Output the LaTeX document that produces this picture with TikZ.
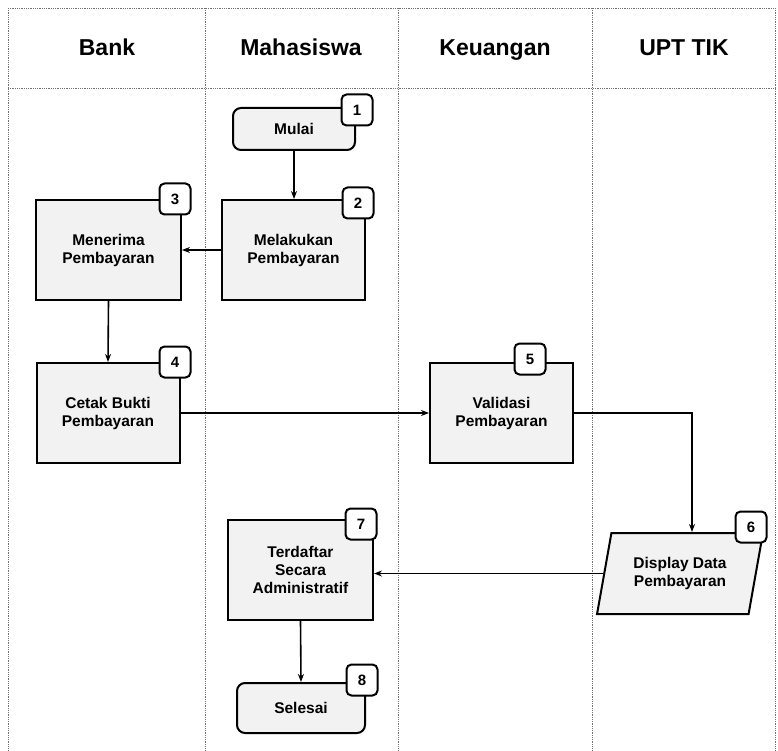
\documentclass[tikz,border=0pt]{standalone}
\usepackage{fontspec}
\setmainfont{Liberation Sans}
\usetikzlibrary{arrows.meta, positioning, shapes.geometric}

\begin{document}
\begin{tikzpicture}[
    x=1pt, y=-1pt,
    lane/.style={draw=black!55, densely dotted, line width=0.8pt},
    lanehead/.style={font=\fontsize{23}{26}\selectfont\bfseries, text=black,
        text height=16pt, text depth=5pt},
    box/.style={
        draw=black, minimum width=143pt, minimum height=100pt,
        font=\fontsize{15.5}{18}\selectfont\bfseries, align=center, line width=2pt, fill=black!5
    },
    term/.style={box, rounded corners=8pt},
    io/.style={box, trapezium, trapezium left angle=76, trapezium right angle=104,
        trapezium stretches=true, inner xsep=0pt},
    badge/.style={
        draw=black, rounded corners=5pt, minimum width=31pt, minimum height=31pt,
        font=\fontsize{15}{17}\selectfont\bfseries, line width=2pt, fill=white
    },
    arrow/.style={
        -{Stealth[length=8pt, width=6pt]}, line width=1.6pt, black
    }
]
\useasboundingbox (0,0) rectangle (778,751);

% swimlanes
\draw[lane] (8,8) -- (775,8);
\draw[lane] (8,88) -- (775,88);
\foreach \xx in {8,205,398,592,775}
    \draw[lane] (\xx,8) -- (\xx,751);

\node[lanehead] (hbank) at (107,50) {Bank};
\node[lanehead] (hmhs) at (301,50) {Mahasiswa};
\node[lanehead] (hkeu) at (495,50) {Keuangan};
\node[lanehead] (htik) at (684,50) {UPT TIK};

% steps
\node[term, minimum width=122pt, minimum height=42pt] (mulai) at (294,129) {Mulai};
\node[box] (bayar) at (293.5,250) {Melakukan\\Pembayaran};
\node[box, minimum width=145pt] (terima) at (108.5,250) {Menerima\\Pembayaran};
\node[box] (cetak) at (108,413) {Cetak Bukti\\Pembayaran};
\node[box] (validasi) at (501.5,413) {Validasi\\Pembayaran};
\node[io, minimum width=166pt, minimum height=81pt] (display) at (680,573.5) {Display Data\\Pembayaran};
\node[box, minimum width=145pt] (terdaftar) at (300.5,570) {Terdaftar\\Secara\\Administratif};
\node[term, minimum width=128pt, minimum height=50pt] (selesai) at (301,708) {Selesai};

% step numbers
\node[badge] (n1) at (357,110) {1};
\node[badge] (n2) at (358,203) {2};
\node[badge] (n3) at (175,199) {3};
\node[badge] (n4) at (175,362) {4};
\node[badge] (n5) at (530,359) {5};
\node[badge] (n6) at (751,527) {6};
\node[badge] (n7) at (361,524) {7};
\node[badge] (n8) at (362,680) {8};

% flow
\draw[arrow] (mulai.south) -- (bayar.north -| mulai.south);
\draw[arrow] (bayar.west) -- (terima.east);
\draw[arrow] (terima.south) -- (cetak.north);
\draw[arrow] (cetak.east) -- (validasi.west);
\draw[arrow] (validasi.east) -| ([xshift=12pt]display.north);
\draw[arrow] (display.west) -- (display.west -| terdaftar.east);
\draw[arrow] (terdaftar.south) -- (selesai.north);

\end{tikzpicture}
\end{document}
